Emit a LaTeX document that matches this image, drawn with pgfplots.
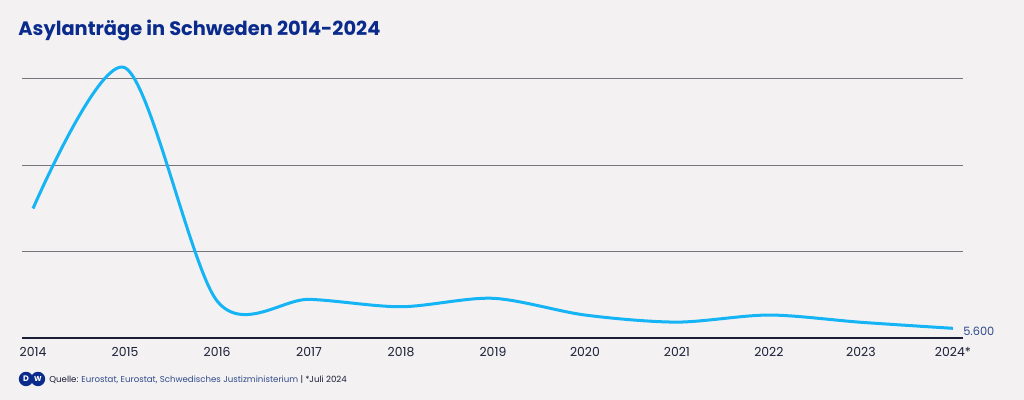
\documentclass[border=0pt]{standalone}
\usepackage{pgfplots}
\pgfplotsset{compat=1.18}
\usepackage{fontspec}
\setmainfont{Poppins}
\definecolor{bg}{HTML}{F3F1F2}
\definecolor{dwblue}{HTML}{0A2A8C}
\definecolor{linecol}{HTML}{14B4F5}
\definecolor{gridcol}{HTML}{75757C}
\definecolor{basecol}{HTML}{1A1E36}
\definecolor{srcblue}{HTML}{2F4A8A}
\begin{document}
\begin{tikzpicture}[x=1pt,y=1pt]
\fill[bg] (0,0) rectangle (512,200);
\node[anchor=base west, inner sep=0pt, text=dwblue, font=\fontsize{9.7}{12}\selectfont\bfseries] at (9,182) {Asylanträge in Schweden 2014-2024};
\begin{axis}[
  at={(11pt,31pt)}, anchor=south west,
  scale only axis, width=470.5pt, height=129.5pt,
  xmin=2013.88, xmax=2024.11, ymin=0, ymax=150000,
  clip=false,
  scaled y ticks=false,
  axis lines*=left,
  x axis line style={draw=basecol, line width=1pt, -},
  y axis line style={draw=none},
  xtick={2014,2015,2016,2017,2018,2019,2020,2021,2022,2023,2024},
  xticklabels={2014,2015,2016,2017,2018,2019,2020,2021,2022,2023,2024*},
  xtick style={draw=none},
  xticklabel style={font=\fontsize{6.2}{7}\selectfont, text=basecol, yshift=-1pt},
  ytick={50000,100000,150000},
  yticklabels={},
  ytick style={draw=none},
  ymajorgrids,
  major grid style={draw=gridcol, line width=0.5pt},
]
\addplot[linecol, line width=1.5pt, smooth] coordinates {
(2014,75000) (2015,156500) (2016,21500) (2017,22400) (2018,18100) (2019,23000)
(2020,13300) (2021,9200) (2022,13300) (2023,9100) (2024,5600)};
\node[anchor=west, text=srcblue, font=\fontsize{5.7}{6}\selectfont, inner sep=0pt] at (axis cs:2024,3600) {\hspace{5pt}5.600};
\end{axis}
\fill[dwblue] (13,10.5) circle (3.6);
\fill[dwblue] (19,10.5) circle (3.6);
\node[text=white, font=\fontsize{4}{4}\selectfont\bfseries, inner sep=0pt] at (13,10.5) {D};
\node[text=white, font=\fontsize{3.6}{4}\selectfont\bfseries, inner sep=0pt] at (19,10.5) {W};
\node[anchor=base west, inner sep=0pt, font=\fontsize{4.3}{5}\selectfont] at (24.5,8.6) {\textcolor{basecol}{Quelle:} \textcolor{srcblue}{Eurostat, Eurostat, Schwedisches Justizministerium} \textcolor{basecol}{| *Juli 2024}};
\end{tikzpicture}
\end{document}
